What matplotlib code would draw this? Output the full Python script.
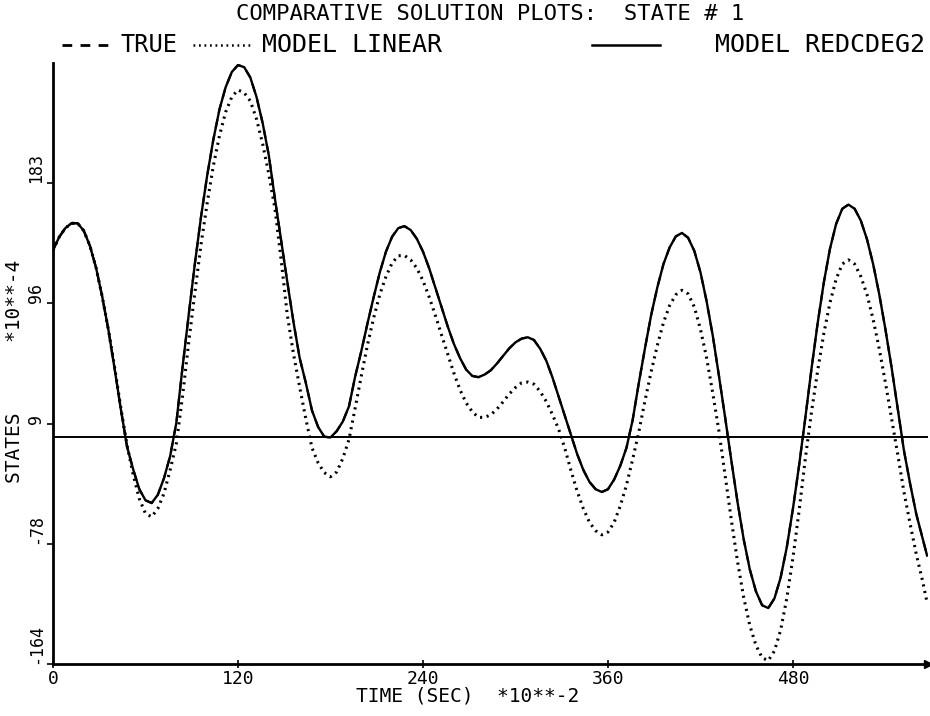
import matplotlib
matplotlib.use("Agg")
import matplotlib.pyplot as plt
from matplotlib.lines import Line2D

# ---------------- data (TIME in SEC*10**-2, STATES in 10**-4) ----------------
time = list(range(0, 565, 4)) + [567]

model_redcdeg2 = [
    135, 144.5, 151, 154.5, 154.5, 149, 138, 122, 101, 77, 49, 20,            # 0-44
    -7, -23.6, -38, -46, -48, -42, -30, -14, 10, 50, 88, 125,                 # 48-92
    159, 189, 215, 237, 253, 264, 269, 267.5, 260, 246, 227, 203.6,           # 96-140
    172, 142, 112, 83, 57, 39, 19, 7, 0, -0.5, 4, 11,                         # 144-188
    22, 43.5, 62, 82, 101, 119, 134, 144.8, 151, 152.4, 149.6, 143.3,         # 192-236
    134, 122, 108, 94.2, 80, 67.3, 57, 48.6, 44, 43.1, 45, 48.1,              # 240-284
    53, 58.5, 64, 68.3, 71, 72, 70, 63.7, 55, 42.9, 29, 15.1,                 # 288-332
    1, -12.5, -24, -32.7, -38, -40, -38, -31, -21, -8, 12, 38.8,              # 336-380
    64, 88, 108, 125, 137, 145, 147.5, 144, 134.5, 119, 98, 73,               # 384-428
    44, 14, -17, -47, -74, -96, -112, -122, -124, -117, -102, -80,            # 432-476
    -52, -20.6, 13.5, 49, 82, 111.5, 136, 154, 165, 168, 165, 156.5,          # 480-524
    143, 125, 103, 77.6, 50, 20, -10, -34, -56, -73, -86]                     # 528-567

true_state = [
    135, 144.5, 151, 154.5, 154.5, 149, 138, 122, 101, 77, 49, 20,
    -7, -23.6, -38, -46, -48, -42, -30, -14, 10, 50, 88, 125,
    159, 189, 215, 237, 253, 264, 269, 267.5, 260, 246, 227, 203.6,
    172, 142, 112, 83, 57, 39, 19, 7, 0, -0.5, 4, 11,
    22, 43.5, 62, 82, 101, 119, 134, 144.8, 151, 152.4, 149.6, 143.3,
    134, 122, 108, 94.2, 80, 67.3, 57, 48.6, 44, 43.1, 45, 48.1,
    53, 58.5, 64, 68.3, 71, 72, 70, 63.7, 55, 42.9, 29, 15.1,
    1, -12.5, -24, -32.7, -38, -40, -38, -31, -21, -8, 12, 38.8,
    64, 88, 108, 125, 137, 145, 147.5, 144, 134.5, 119, 98, 73,
    44, 14, -17, -47, -74, -96, -112, -122, -124, -117, -102, -80,
    -52, -20.6, 13.5, 49, 82, 111.5, 136, 154, 165, 168, 165, 156.5,
    143, 125, 103, 77.6, 50, 20, -10, -34, -56, -73, -86]

model_linear = [
    135, 144.5, 151, 154.5, 154.5, 149, 138, 122, 101, 77, 50, 21,            # 0-44
    -6, -27.5, -45, -55.6, -58, -52, -41, -24, -5, 29, 68, 104,               # 48-92
    139, 169, 196, 218, 235, 246, 251, 249, 243, 230, 212, 190,               # 96-140
    165, 128, 88, 60, 36, 13, -8, -19, -26, -29, -25.5, -15.7,                # 144-188
    -2, 20.7, 44, 66.5, 86, 103, 116, 125.8, 131, 131.2, 128, 122,            # 192-236
    113, 101.2, 88, 73.8, 60, 46.2, 34, 24.5, 18, 14, 14, 15.9,               # 240-284
    20, 25.3, 31, 35.6, 39, 39.6, 38, 32.8, 25.5, 16, 5.5, -8.3,              # 288-332
    -24.5, -39.4, -52, -62, -68, -71, -69, -62, -50, -35, -16.5, 3.4,         # 336-380
    26, 47, 66, 82.6, 95, 102.8, 106, 103.4, 94, 77.8, 57, 31.4,              # 384-428
    4, -28, -60, -90, -116, -136.6, -151, -160, -162, -155, -140, -117,       # 432-476
    -87.5, -53.5, -16, 17.7, 47.6, 74.6, 97, 114, 125, 128, 125, 116,         # 480-524
    103, 85, 63.5, 39, 13, -13, -40, -63, -85, -104, -120]                    # 528-567

xticks = [0, 120, 240, 360, 480]
xtick_labels = ["0", "120", "240", "360", "480"]
yticks = [-164.5, -77.5, 9.5, 96.5, 183.5]
ytick_labels = ["-164", "-78", "9", "96", "183"]

title = "COMPARATIVE SOLUTION PLOTS:  STATE # 1"
legend_labels = ["TRUE", "MODEL LINEAR", "MODEL REDCDEG2"]
xlabel = "TIME (SEC)  *10**-2"
ylabel = "STATES      *10**-4"

# ---------------- figure ----------------
FONT = "DejaVu Sans Mono"
W, H = 930, 716
fig = plt.figure(figsize=(W / 100, H / 100), dpi=100)
fig.patch.set_facecolor("white")


def fx(px):
    return px / W


def fy(py):
    return 1 - py / H


ax = fig.add_axes([fx(53), fy(664), fx(928) - fx(53), fy(63) - fy(664)])
ax.set_xlim(0, 567.6)
ax.set_ylim(-164.5, 270.5)

dotted = (0, (0.7, 1.5))
ax.plot(time, true_state, color="black", lw=1.6, ls=(0, (4, 3)), zorder=2)
ax.plot(time, model_linear, color="black", lw=2.2, ls=dotted, zorder=3)
ax.plot(time, model_redcdeg2, color="black", lw=1.7, ls="-", zorder=4)
ax.axhline(0, color="black", lw=1.4, zorder=1)

for s in ["top", "right"]:
    ax.spines[s].set_visible(False)
for s in ["left", "bottom"]:
    ax.spines[s].set_linewidth(2.0)
ax.plot([1], [0], marker=">", color="black", markersize=6,
        transform=ax.transAxes, clip_on=False)

ax.set_xticks(xticks)
ax.set_xticklabels(xtick_labels, fontfamily=FONT, fontsize=13)
ax.set_yticks(yticks)
ax.set_yticklabels(ytick_labels, fontfamily=FONT, fontsize=12, rotation=90)
ax.tick_params(axis="x", direction="inout", length=6, width=1.2, pad=1)
ax.tick_params(axis="y", direction="out", length=4, width=1.2, pad=2)
for lab in ax.get_yticklabels():
    lab.set_va("bottom")
    lab.set_ha("right")

fig.text(fx(490), fy(14), title, ha="center", va="center",
         fontfamily=FONT, fontsize=16)

# legend row
ly = fy(45)
fig.add_artist(Line2D([fx(62), fx(114)], [ly, ly], color="black", lw=2,
                      ls=(0, (3.5, 3)), transform=fig.transFigure))
fig.text(fx(149), ly, legend_labels[0], ha="center", va="center",
         fontfamily=FONT, fontsize=17)
fig.add_artist(Line2D([fx(193), fx(250)], [ly, ly], color="black", lw=1.8,
                      ls=dotted, transform=fig.transFigure))
fig.text(fx(262), ly, legend_labels[1], ha="left", va="center",
         fontfamily=FONT, fontsize=18)
fig.add_artist(Line2D([fx(592), fx(660)], [ly, ly], color="black", lw=1.8,
                      transform=fig.transFigure))
fig.text(fx(925), ly, legend_labels[2], ha="right", va="center",
         fontfamily=FONT, fontsize=18)

fig.text(fx(356), fy(696), xlabel, ha="left", va="center",
         fontfamily=FONT, fontsize=14)
fig.text(fx(15), fy(371), ylabel, ha="center", va="center", rotation=90,
         fontfamily=FONT, fontsize=14)

fig.savefig("out.png", dpi=100, facecolor="white")
